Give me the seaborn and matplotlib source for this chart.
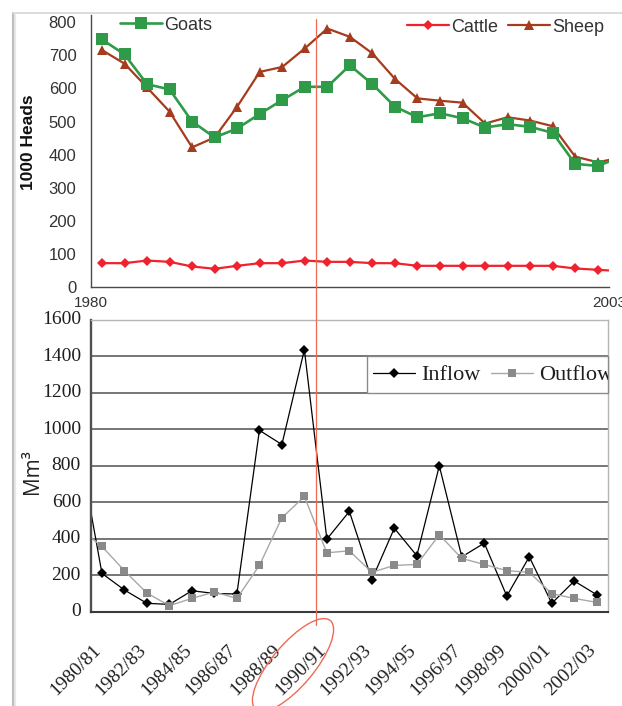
import numpy as np
import pandas as pd
import matplotlib
matplotlib.use("Agg")
import matplotlib.pyplot as plt
import seaborn as sns
from matplotlib.patches import Ellipse, Rectangle
from matplotlib.lines import Line2D
import matplotlib.transforms as mtransforms
from matplotlib import font_manager as fm

# ---------------- data ----------------
years = list(range(1980, 2004))
goats = [748, 703, 613, 597, 500, 452, 479, 523, 565, 605, 605, 670,
         613, 545, 513, 525, 510, 482, 492, 484, 466, 372, 366, 392]
sheep = [716, 675, 603, 530, 422, 452, 545, 650, 665, 721, 781, 756,
         706, 629, 570, 563, 557, 494, 513, 503, 486, 394, 377, 391]
cattle = [72, 72, 80, 76, 62, 55, 64, 72, 72, 80, 76, 76,
          72, 72, 64, 64, 64, 64, 64, 64, 64, 56, 52, 48]

seasons = ["1979/80", "1980/81", "1981/82", "1982/83", "1983/84", "1984/85",
           "1985/86", "1986/87", "1987/88", "1988/89", "1989/90", "1990/91",
           "1991/92", "1992/93", "1993/94", "1994/95", "1995/96", "1996/97",
           "1997/98", "1998/99", "1999/00", "2000/01", "2001/02", "2002/03"]
inflow = [896, 210, 119, 46, 40, 115, 100, 97, 995, 917, 1437, 398,
          550, 175, 458, 307, 800, 301, 376, 86, 301, 46, 168, 93]
outflow = [456, 358, 225, 102, 33, 73, 108, 73, 254, 515, 632, 323,
           334, 216, 254, 259, 422, 292, 259, 225, 216, 99, 73, 51]

top_yticks = list(range(0, 801, 100))
bot_yticks = list(range(0, 1601, 200))

df_top = pd.DataFrame({"year": years, "Goats": goats, "Sheep": sheep, "Cattle": cattle})
df_bot = pd.DataFrame({"season": seasons, "pos": np.arange(len(seasons)) - 1,
                       "Inflow": inflow, "Outflow": outflow})

# ---------------- style ----------------
sns.set_style("white")
plt.rcParams["font.family"] = ["Liberation Sans", "DejaVu Sans"]
SERIF_PATH = fm.findfont(fm.FontProperties(family="Liberation Serif"))

W, H = 622, 706
fig = plt.figure(figsize=(W / 100, H / 100), dpi=100)

def fx(px):
    return px / W

def fy(py):
    return 1 - py / H

# ---------------- top panel ----------------
ax1 = fig.add_axes([fx(90.7), fy(287), fx(609) - fx(90.7), fy(15) - fy(287)])
C_GOAT, C_SHEEP, C_CATTLE = "#2f9a48", "#a63c1e", "#f0222e"

xt = df_top["year"] + 0.5
sns.lineplot(x=xt, y=df_top["Cattle"], ax=ax1, color=C_CATTLE, linewidth=1.6,
             marker="D", markersize=5, markeredgewidth=0)
h_cattle = ax1.lines[-1]
sns.lineplot(x=xt, y=df_top["Sheep"], ax=ax1, color=C_SHEEP, linewidth=1.6,
             marker="^", markersize=7, markeredgewidth=0)
h_sheep = ax1.lines[-1]
sns.lineplot(x=xt, y=df_top["Goats"], ax=ax1, color=C_GOAT, linewidth=1.9,
             marker="s", markersize=8.4, markeredgewidth=0)
h_goats = ax1.lines[-1]

ax1.set_xlim(1980, 2003)
ax1.set_ylim(0, 822)
ax1.set_yticks(top_yticks)
ax1.set_xticks(years)
ax1.set_xticklabels([str(y) if y in (1980, 2003) else "" for y in years])
for s in ["top", "right"]:
    ax1.spines[s].set_visible(False)
for s in ["left", "bottom"]:
    ax1.spines[s].set_color("#4a4a4a")
    ax1.spines[s].set_linewidth(1.0)
ax1.tick_params(axis="x", direction="inout", length=8, width=1, color="#4a4a4a",
                pad=2.5, labelsize=11, labelcolor="#333333")
ax1.tick_params(axis="y", direction="inout", length=6.5, width=1, color="#4a4a4a",
                pad=7, labelsize=12, labelcolor="#333333")
ax1.set_xlabel("")
ax1.set_ylabel("1000 Heads", fontsize=12.5, fontweight="bold", color="#111111", va="center")
ax1.yaxis.set_label_coords((29 - 90.7) / (609 - 90.7), (287 - 142) / (287 - 15))

leg1 = ax1.legend(handles=[h_goats], labels=["Goats"], loc="center left",
                  bbox_to_anchor=(fx(120), fy(25)), bbox_transform=fig.transFigure,
                  frameon=False, fontsize=13, handlelength=2.3, handletextpad=0.15,
                  borderpad=0, borderaxespad=0, labelcolor="#333333")
ax1.add_artist(leg1)
leg2 = ax1.legend(handles=[h_cattle, h_sheep], labels=["Cattle", "Sheep"], loc="center left",
                  bbox_to_anchor=(fx(407), fy(27)), bbox_transform=fig.transFigure,
                  frameon=False, fontsize=13, ncol=2, handlelength=2.3, handletextpad=0.15,
                  columnspacing=0.55, borderpad=0, borderaxespad=0, labelcolor="#333333")

# ---------------- bottom panel ----------------
ax2 = fig.add_axes([fx(90.7), fy(611.7), fx(608) - fx(90.7), fy(320) - fy(611.7)])
sns.lineplot(x=df_bot["pos"], y=df_bot["Inflow"], ax=ax2, color="#000000", linewidth=0.9,
             marker="D", markersize=5.2, markeredgewidth=0)
h_in = ax2.lines[-1]
sns.lineplot(x=df_bot["pos"], y=df_bot["Outflow"], ax=ax2, color="#a8a8a8", linewidth=1.0,
             marker="s", markersize=6, markeredgewidth=0, markerfacecolor="#8a8a8a")
h_out = ax2.lines[-1]

ax2.set_xlim(-0.5, 22.5)
ax2.set_ylim(0, 1600)
ax2.set_yticks(bot_yticks)
label_pos = np.arange(0, 23, 2)
ax2.set_xticks(label_pos)
ax2.set_xticks(np.arange(-0.5, 23, 1), minor=True)
ax2.set_axisbelow(True)
ax2.grid(axis="y", color="#6b6b6b", linewidth=1.3)
ax2.grid(axis="x", visible=False)
ax2.tick_params(axis="x", which="major", length=0, labelbottom=False)
ax2.tick_params(axis="x", which="minor", direction="out", length=5, width=1.2,
                color="#3a3a3a")
ax2.tick_params(axis="y", length=0, labelleft=False)

# serif tick labels, placed through the axes' own transforms
serif14 = fm.FontProperties(fname=SERIF_PATH, size=14)
xlab_tr = (mtransforms.blended_transform_factory(ax2.transData, ax2.transAxes)
           + mtransforms.ScaledTranslation(0, -39 / 100, fig.dpi_scale_trans))
for p, lab in zip(label_pos, seasons[1::2]):
    ax2.text(p, 0, lab, transform=xlab_tr, rotation=45, rotation_mode="anchor",
             ha="right", va="baseline", fontproperties=serif14, color="#1e1e1e",
             clip_on=False)
ylab_tr = (mtransforms.blended_transform_factory(ax2.transAxes, ax2.transData)
           + mtransforms.ScaledTranslation(-9.7 / 100, 0, fig.dpi_scale_trans))
for v in bot_yticks:
    ax2.text(0, v, str(v), transform=ylab_tr, ha="right", va="center",
             fontproperties=serif14, color="#1e1e1e", clip_on=False)

ax2.spines["top"].set_color("#b5b5b5")
ax2.spines["top"].set_linewidth(1.0)
ax2.spines["right"].set_color("#b5b5b5")
ax2.spines["right"].set_linewidth(1.0)
ax2.spines["left"].set_color("#505050")
ax2.spines["left"].set_linewidth(1.7)
ax2.spines["bottom"].set_color("#3a3a3a")
ax2.spines["bottom"].set_linewidth(1.5)
ax2.set_xlabel("")
ax2.set_ylabel("Mm\u00b3", fontsize=15, color="#222222", va="center",
               family=["Open Sans", "DejaVu Sans"])
ax2.yaxis.set_label_coords((33 - 90.7) / (608 - 90.7), (611.7 - 472) / (611.7 - 320))

box_tr = mtransforms.blended_transform_factory(ax2.transAxes, ax2.transData)
x0 = (367 - 90.7) / (608 - 90.7)
ax2.add_patch(Rectangle((x0, 1200), 1 - x0, 200, transform=box_tr, facecolor="white",
                        edgecolor="#8a8a8a", linewidth=1.0, zorder=3, clip_on=False))
leg3 = ax2.legend(handles=[h_in, h_out], labels=["Inflow", "Outflow"], loc="center left",
                  bbox_to_anchor=(fx(373), fy(375)), bbox_transform=fig.transFigure,
                  frameon=False, ncol=2, handlelength=1.9, handletextpad=0.28,
                  columnspacing=0.45, borderpad=0, borderaxespad=0,
                  prop={"family": ["Liberation Serif"], "size": 16}, labelcolor="#1e1e1e")
for t in leg3.get_texts():
    t.set_clip_box(ax2.bbox)
    t.set_clip_on(True)

# ---------------- annotations ----------------
RED = "#ee6a55"
line_tr = mtransforms.blended_transform_factory(ax1.transData, fig.transFigure)
fig.add_artist(Line2D([1990, 1990], [fy(19), fy(625)], transform=line_tr,
                      color=RED, linewidth=0.9, zorder=10))
fig.add_artist(Ellipse((293, H - 665), 116, 42, angle=50, transform=mtransforms.IdentityTransform(),
                       facecolor="none", edgecolor=RED, linewidth=1.0, zorder=10))

# window frame
fig.add_artist(Line2D([fx(13), fx(13)], [fy(13), 0], transform=fig.transFigure,
                      color="#bdbdbd", linewidth=1.5))
fig.add_artist(Line2D([fx(15), fx(15)], [fy(15), 0], transform=fig.transFigure,
                      color="#e6e6e6", linewidth=1.5))
fig.add_artist(Line2D([fx(13), 1], [fy(13), fy(13)], transform=fig.transFigure,
                      color="#d6d6d6", linewidth=1.2))

fig.savefig("out.png", dpi=100)
